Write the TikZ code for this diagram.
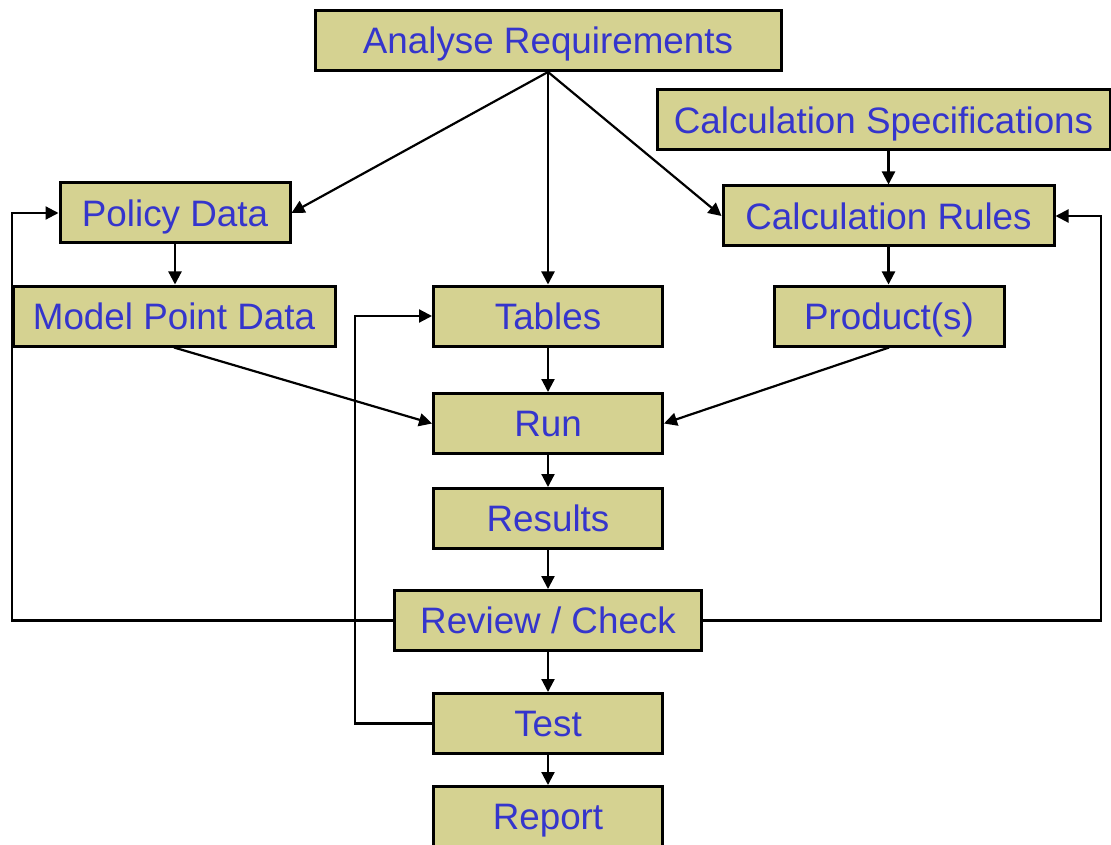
\documentclass[tikz,border=0pt]{standalone}
\usepackage{xcolor}
\usepackage{fontspec}
\setmainfont{Liberation Sans}
\usepackage{tikz}
\usetikzlibrary{arrows.meta, positioning, calc}
\definecolor{flowkhaki}{HTML}{D5D291}
\definecolor{flowblue}{HTML}{3535CC}
\tikzset{
  stepbox/.style={draw=black, fill=flowkhaki, line width=1.5pt,
                  minimum height=30pt, inner sep=0pt, text=flowblue,
                  text height=13.2pt, text depth=0pt,
                  font=\fontsize{18.4pt}{22pt}\selectfont},
  arrow/.style={-{Triangle[length=6.5pt,width=6.5pt]}, line width=1.1pt}
}

\begin{document}
\begin{tikzpicture}[x=0.5pt, y=-0.5pt]
    \clip (0,0) rectangle (1111,844);

    \node[stepbox, minimum width=233pt] (ana) at (548,40.5) {Analyse Requirements};
    \node[stepbox, minimum width=226.5pt] (spec) at (883.5,120) {Calculation Specifications};

    \node[stepbox, minimum width=115pt] (pol) at (175,213) {Policy Data};
    \node[stepbox, minimum width=165.5pt] (rules) at (888.5,216) {Calculation Rules};

    \node[stepbox, minimum width=161pt] (mpd) at (174,316) {Model Point Data};
    \node[stepbox, minimum width=114.5pt] (tab) at (548,316) {Tables};
    \node[stepbox, minimum width=115pt] (prod) at (889,316) {Product(s)};

    \node[stepbox, minimum width=114.5pt] (run) at (548,423.5) {Run};
    \node[stepbox, minimum width=114.5pt] (res) at (548,518.5) {Results};
    \node[stepbox, minimum width=153.5pt] (rev) at (548,620.5) {Review / Check};
    \node[stepbox, minimum width=114.5pt] (test) at (548,723.5) {Test};
    \node[stepbox, minimum width=114.5pt] (rep) at (548,816.5) {Report};

    % feedback corners
    \coordinate (lbus) at (12,213);
    \coordinate (rbus) at (1101,216);
    \coordinate (tbus) at (355,316);

    \draw[arrow] (ana.south) -- (pol.east);
    \draw[arrow] (ana.south) -- (tab.north);
    \draw[arrow] (ana.south) -- (rules.west);
    \draw[arrow] (rules.north |- spec.south) -- (rules.north);
    \draw[arrow] (pol.south) -- (pol.south |- mpd.north);
    \draw[arrow] (rules.south) -- (rules.south |- prod.north);
    \draw[arrow] (mpd.south) -- (run.west);
    \draw[arrow] (tab.south) -- (run.north);
    \draw[arrow] (prod.south) -- (run.east);
    \draw[arrow] (run.south) -- (res.north);
    \draw[arrow] (res.south) -- (rev.north);
    \draw[arrow] (rev.south) -- (test.north);
    \draw[arrow] (test.south) -- (rep.north);

    \draw[arrow] (rev.west) -| (lbus) -- (pol.west);
    \draw[arrow] (rev.east) -| (rbus) -- (rules.east);
    \draw[arrow] (test.west) -| (tbus) -- (tab.west);
  \end{tikzpicture}
\end{document}
